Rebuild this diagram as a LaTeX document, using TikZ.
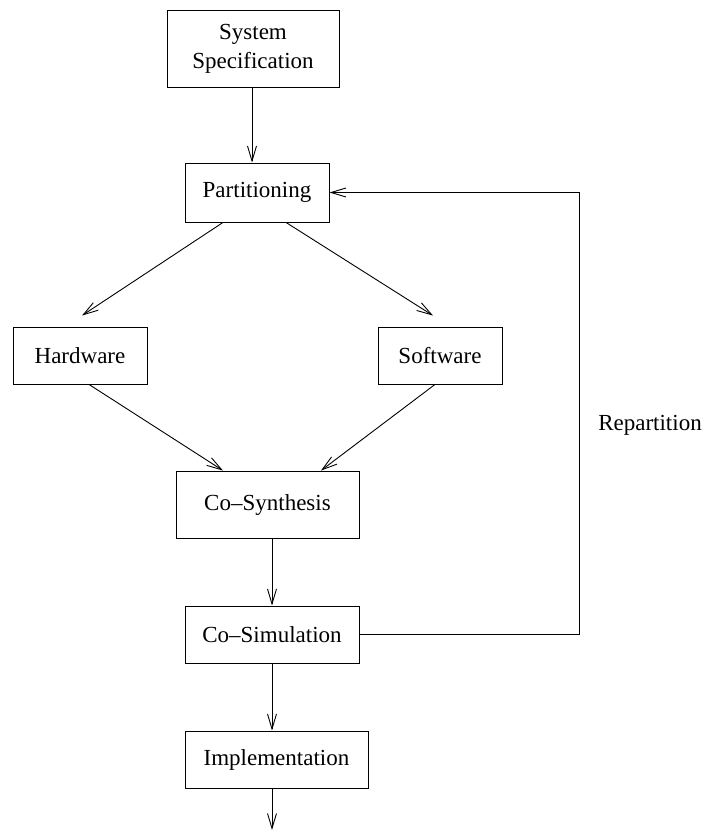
\documentclass[tikz,border=0pt]{standalone}
\usepackage{fontspec}
\setmainfont{Liberation Serif}
\usetikzlibrary{arrows.meta,calc}
\begin{document}
\begin{tikzpicture}[x=1pt,y=-1pt,
  box/.style={draw,line width=0.9pt,inner sep=0pt,align=center,font=\fontsize{23}{29}\selectfont},
  arr/.style={line width=0.9pt,-{Straight Barb[length=15pt,width=9pt,line width=0.9pt]}},
  lbl/.style={font=\fontsize{23}{29}\selectfont,inner sep=0pt}]
\useasboundingbox (0,0) rectangle (704,832);
\node[box,minimum width=172pt,minimum height=77pt] (spec) at (253,48.5) {System\\Specification};
\node[box,minimum width=144pt,minimum height=59pt] (part) at (257,192.5) {Partitioning};
\node[box,minimum width=134pt,minimum height=57pt] (hw) at (80,355.5) {Hardware};
\node[box,minimum width=124pt,minimum height=57pt] (sw) at (440,355.5) {Software};
\node[box,minimum width=183pt,minimum height=67pt] (syn) at (267.5,504.5) {Co–Synthesis};
\node[box,minimum width=174pt,minimum height=57pt] (sim) at (272,634.5) {Co–Simulation};
\node[box,minimum width=183pt,minimum height=57pt] (impl) at (276.5,759.5) {Implementation};
\node[lbl] (rep) at (650,425) {Repartition};
\coordinate (out) at (272,830);

\draw[arr] ($(spec.south)+(-1,0)$) -- ($(part.north)+(-5,0)$);
\draw[arr] ($(part.south)+(-34,0)$) -- ($(hw.north)+(2,-11)$);
\draw[arr] ($(part.south)+(29,0)$) -- ($(sw.north)+(-7,-11)$);
\draw[arr] ($(hw.south)+(9,0)$) -- ($(syn.north)+(-44.5,0)$);
\draw[arr] ($(sw.south)+(-5,0)$) -- ($(syn.north)+(53.5,0)$);
\draw[arr] ($(syn.south)+(4.5,0)$) -- (sim.north);
\draw[arr] (sim.east) -- ++(220,0) |- (part.east);
\draw[arr] (sim.south) -- ($(impl.north)+(-4.5,0)$);
\draw[arr] ($(impl.south)+(-4.5,0)$) -- (out);
\end{tikzpicture}
\end{document}
